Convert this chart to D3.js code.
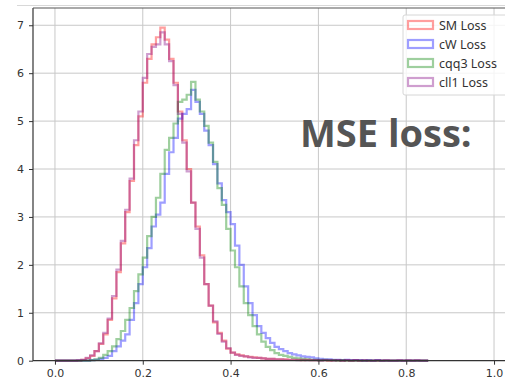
<!DOCTYPE html>
<html>
<head>
<meta charset="utf-8">
<script src="https://cdn.jsdelivr.net/npm/d3@7"></script>
<style>
  body { margin: 0; background: #fff; }
  svg { display: block; font-family: "DejaVu Sans", sans-serif; }
</style>
</head>
<body>
<svg id="chart" width="505" height="381"></svg>
<script>
// histogram densities, bins of width 0.01 starting at 0.0
var binWidth = 0.01;
var smLoss = [0,0,0,0,0,0,0.02,0.05,0.1,0.2,
  0.35,0.55,0.85,1.3,1.85,2.45,3.1,3.75,4.5,5.1,
  5.8,6.3,6.6,6.75,6.95,6.7,6.3,5.8,5.2,4.6,
  4.0,3.3,2.8,2.2,1.6,1.15,0.8,0.58,0.42,0.25,
  0.17,0.13,0.11,0.09,0.08,0.07,0.06,0.05,0.04,0.04,
  0.03,0.03,0.03,0.02,0.02,0.02,0.01,0.02,0.01,0.01,
  0.01,0.01,0,0.01,0.01,0,0.01,0,0.01,0,
  0,0,0,0,0,0,0,0,0,0,
  0,0,0,0,0];
var cwLoss = [0,0,0,0,0,0,0,0,0.01,0.02,
  0.04,0.06,0.1,0.2,0.3,0.42,0.55,0.85,1.2,1.6,
  1.95,2.35,2.8,3.05,3.3,3.9,4.35,4.65,5.05,5.15,
  5.25,5.65,5.4,5.15,4.8,4.5,4.1,3.7,3.35,3.1,
  2.85,2.4,2.0,1.55,1.2,0.95,0.72,0.58,0.47,0.37,
  0.29,0.24,0.2,0.16,0.13,0.11,0.09,0.08,0.07,0.05,
  0.04,0.03,0.03,0.02,0.02,0.01,0.02,0.01,0.01,0.01,
  0,0.01,0,0.01,0,0,0,0,0,0,
  0,0,0,0,0];
var cqq3Loss = [0,0,0,0,0,0,0,0,0.01,0.03,
  0.06,0.12,0.2,0.3,0.45,0.62,0.85,1.1,1.45,1.8,
  2.15,2.6,3.0,3.4,3.9,4.4,4.65,4.95,5.4,5.45,
  5.55,5.82,5.45,5.2,4.9,4.55,4.15,3.6,3.25,2.75,
  2.3,1.95,1.55,1.2,0.95,0.72,0.55,0.4,0.29,0.22,
  0.16,0.12,0.1,0.08,0.06,0.05,0.04,0.03,0.02,0.02,
  0.01,0.02,0.01,0.01,0,0.01,0,0,0,0,
  0,0,0,0,0,0,0,0,0,0,
  0,0,0,0,0];
var cll1Loss = [0,0,0,0,0,0.01,0.02,0.06,0.11,0.2,
  0.36,0.58,0.88,1.35,1.9,2.5,3.15,3.8,4.6,5.2,
  5.9,6.4,6.55,6.6,6.85,6.6,6.25,5.75,5.15,4.55,
  3.95,3.3,2.75,2.15,1.6,1.15,0.82,0.56,0.4,0.26,
  0.17,0.12,0.1,0.09,0.07,0.06,0.06,0.05,0.04,0.04,
  0.03,0.03,0.02,0.02,0.02,0.01,0.02,0.01,0.01,0.01,
  0,0.01,0.01,0,0.01,0,0.01,0,0.01,0,
  0.01,0,0,0.01,0,0.01,0,0,0.01,0,
  0.01,0,0.01,0,0];

var seriesNames = ["SM Loss", "cW Loss", "cqq3 Loss", "cll1 Loss"];
var seriesColors = ["red", "blue", "green", "purple"];
var seriesData = [smLoss, cwLoss, cqq3Loss, cll1Loss];

var xTicks = [0.0, 0.2, 0.4, 0.6, 0.8, 1.0];
var yTicks = [0, 1, 2, 3, 4, 5, 6, 7];

var svg = d3.select("#chart");

var x = d3.scaleLinear().domain([-0.05, 1.05]).range([33, 516]);
var y = d3.scaleLinear().domain([0, 7.36]).range([360.7, 8]);

// faint line above the axes (screenshot edge)
svg.append("line")
  .attr("x1", 17).attr("x2", 505).attr("y1", 5.5).attr("y2", 5.5)
  .attr("stroke", "#d8d8d8").attr("stroke-width", 1);

// grid
svg.append("g").selectAll("line")
  .data(xTicks).enter().append("line")
  .attr("x1", d => x(d)).attr("x2", d => x(d))
  .attr("y1", y.range()[1]).attr("y2", y.range()[0])
  .attr("stroke", "#c8c8c8").attr("stroke-width", 1);
svg.append("g").selectAll("line")
  .data(yTicks.slice(1)).enter().append("line")
  .attr("x1", 33).attr("x2", 505)
  .attr("y1", d => y(d)).attr("y2", d => y(d))
  .attr("stroke", "#c8c8c8").attr("stroke-width", 1);

// step histograms
var line = d3.line()
  .x(d => x(d[0]))
  .y(d => y(d[1]))
  .curve(d3.curveStepAfter);

seriesData.forEach(function(vals, i) {
  var pts = [[0, 0]];
  vals.forEach(function(v, j) { pts.push([j * binWidth, v]); });
  pts.push([vals.length * binWidth, vals[vals.length - 1]]);
  pts.push([vals.length * binWidth, 0]);
  svg.append("path")
    .datum(pts)
    .attr("d", line)
    .attr("fill", "none")
    .attr("stroke", seriesColors[i])
    .attr("stroke-opacity", 0.38)
    .attr("stroke-width", 2.2);
});

// axes
var xAxis = d3.axisBottom(x).tickValues(xTicks).tickFormat(d3.format(".1f")).tickSize(4).tickPadding(5);
var yAxis = d3.axisLeft(y).tickValues(yTicks).tickFormat(d3.format("d")).tickSize(4).tickPadding(5);

var gx = svg.append("g").attr("transform", "translate(0,360.7)").call(xAxis);
var gy = svg.append("g").attr("transform", "translate(33,0)").call(yAxis);
[gx, gy].forEach(function(g) {
  g.select(".domain").remove();
  g.selectAll(".tick line").attr("stroke", "#333");
  g.selectAll(".tick text").attr("fill", "#333").style("font-size", "11px")
    .style("font-family", "DejaVu Sans, sans-serif");
});

// spines
svg.append("line").attr("x1", 33).attr("x2", 33).attr("y1", 8).attr("y2", 361)
  .attr("stroke", "#333").attr("stroke-width", 1.2);
svg.append("line").attr("x1", 33).attr("x2", 505).attr("y1", 360.7).attr("y2", 360.7)
  .attr("stroke", "#333").attr("stroke-width", 1.2);
svg.append("line").attr("x1", 33).attr("x2", 505).attr("y1", 8).attr("y2", 8)
  .attr("stroke", "#555").attr("stroke-width", 1.2);

// legend
var leg = svg.append("g");
leg.append("rect")
  .attr("x", 403).attr("y", 15).attr("width", 110).attr("height", 80)
  .attr("rx", 2)
  .attr("fill", "white").attr("fill-opacity", 0.8)
  .attr("stroke", "#d6d6d6");
var items = leg.selectAll("g.item").data(seriesNames).enter().append("g")
  .attr("transform", (d, i) => "translate(408," + (25 + i * 19) + ")");
items.append("rect")
  .attr("x", 0).attr("y", -4).attr("width", 25).attr("height", 8)
  .attr("fill", "none")
  .attr("stroke", (d, i) => seriesColors[i])
  .attr("stroke-opacity", 0.38)
  .attr("stroke-width", 2.2);
items.append("text")
  .attr("x", 31).attr("y", 4.5)
  .attr("fill", "#333")
  .style("font-family", "'Noto Sans', sans-serif")
  .style("font-size", "12.5px")
  .text(d => d);

// annotation
svg.append("text")
  .attr("x", 300).attr("y", 147)
  .attr("fill", "#555")
  .style("font-family", "'Open Sans', sans-serif")
  .style("font-weight", "bold")
  .style("font-size", "38px")
  .text("MSE loss:");
</script>
</body>
</html>
